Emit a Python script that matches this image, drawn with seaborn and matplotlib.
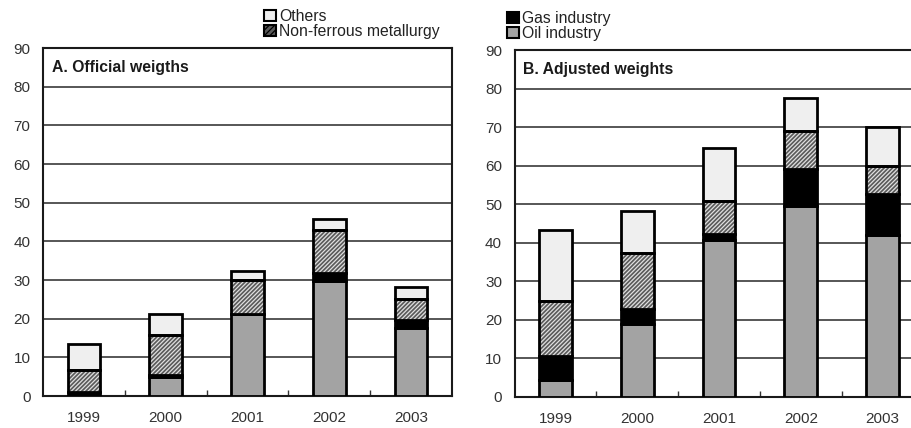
import matplotlib
matplotlib.use("Agg")
import matplotlib.pyplot as plt
import seaborn as sns
import numpy as np
from matplotlib.patches import Patch

years = ["1999", "2000", "2001", "2002", "2003"]

# Panel A: official weights
oil_a = [0.0, 4.8, 21.1, 29.8, 17.5]
gas_a = [1.1, 0.7, 0.0, 2.0, 2.1]
nonf_a = [5.7, 10.4, 9.0, 11.1, 5.4]
others_a = [6.7, 5.2, 2.2, 2.8, 3.3]

# Panel B: adjusted weights
oil_b = [4.3, 19.0, 40.7, 49.4, 41.9]
gas_b = [6.3, 3.8, 1.5, 9.6, 10.7]
nonf_b = [14.2, 14.6, 8.5, 9.9, 7.2]
others_b = [18.4, 10.9, 13.9, 8.6, 10.2]

y_ticks = [0, 10, 20, 30, 40, 50, 60, 70, 80, 90]

sns.set_theme(style="white")
plt.rcParams["font.family"] = ["Liberation Sans", "DejaVu Sans"]
plt.rcParams["hatch.linewidth"] = 0.9

fig = plt.figure(figsize=(9.12, 4.28), dpi=100)
W, H = 912, 428
axA = fig.add_axes([43 / W, 1 - 396 / H, 409 / W, (396 - 48) / H])
axB = fig.add_axes([514.5 / W, 1 - 396.7 / H, 409 / W, (396.7 - 50) / H])

OIL = "#a3a3a3"
GAS = "#000000"
NONF = "#5a5a5a"
OTH = "#efefef"
BW = 0.4
EW = 2.0
FS = 11


def draw(ax, oil, gas, nonf, oth, title, right_spine=True):
    ax.set_axisbelow(True)
    for v in y_ticks[1:-1]:
        ax.axhline(v, color="#3a3a3a", lw=1.2, zorder=0)
    oil = np.array(oil); gas = np.array(gas); nonf = np.array(nonf); oth = np.array(oth)
    b1 = oil
    b2 = oil + gas
    b3 = oil + gas + nonf
    sns.barplot(x=years, y=oil, color=OIL, width=BW, edgecolor="black",
                linewidth=EW, saturation=1, ax=ax, zorder=3)
    sns.barplot(x=years, y=gas, bottom=b1, color=GAS, width=BW, edgecolor="black",
                linewidth=EW, saturation=1, ax=ax, zorder=3)
    # hatched layer: fill + light hatch, then black outline
    sns.barplot(x=years, y=nonf, bottom=b2, color=NONF, width=BW, edgecolor="#e0e0e0",
                linewidth=0, hatch="////////", saturation=1, ax=ax, zorder=3)
    sns.barplot(x=years, y=nonf, bottom=b2, color="black", fill=False, width=BW,
                linewidth=EW, saturation=1, ax=ax, zorder=4)
    sns.barplot(x=years, y=oth, bottom=b3, color=OTH, width=BW, edgecolor="black",
                linewidth=EW, saturation=1, ax=ax, zorder=3)
    ax.set_xlim(-0.5, 4.5)
    ax.set_ylim(0, 90)
    ax.set_yticks(y_ticks)
    ax.set_yticklabels([str(v) for v in y_ticks], fontsize=FS, color="#333333")
    ax.set_xticks(range(5))
    ax.set_xticklabels(years, fontsize=FS, color="#333333")
    ax.set_xticks([0.5, 1.5, 2.5, 3.5], minor=True)
    ax.tick_params(axis="x", which="major", length=0, pad=11)
    ax.tick_params(axis="x", which="minor", direction="in", length=4, width=1,
                   color="#333333", bottom=True)
    ax.tick_params(axis="y", length=0, pad=9)
    ax.set_xlabel("")
    ax.set_ylabel("")
    for s in ax.spines.values():
        s.set_color("#1a1a1a")
        s.set_linewidth(1.5)
        s.set_visible(True)
    ax.spines["right"].set_visible(right_spine)
    ax.text(0.022, 0.966, title, transform=ax.transAxes, ha="left", va="top",
            fontsize=11.3, fontweight="bold", color="#1a1a1a")


draw(axA, oil_a, gas_a, nonf_a, others_a, "A. Official weigths")
draw(axB, oil_b, gas_b, nonf_b, others_b, "B. Adjusted weights", right_spine=False)

legA = [Patch(facecolor=OTH, edgecolor="black", linewidth=1.5, label="Others"),
        Patch(facecolor=NONF, edgecolor="black", linewidth=1.5, hatch="//////",
              label="Non-ferrous metallurgy")]
legB = [Patch(facecolor=GAS, edgecolor="black", linewidth=1.5, label="Gas industry"),
        Patch(facecolor=OIL, edgecolor="black", linewidth=1.5, label="Oil industry")]

kw = dict(loc="upper left", frameon=False, fontsize=11.3, handlelength=0.75,
          handleheight=0.75, handletextpad=0.2, labelspacing=0.0,
          borderaxespad=0, borderpad=0)
fig.legend(handles=legA, bbox_to_anchor=(264 / W, 1 - 9 / H), **kw)
fig.legend(handles=legB, bbox_to_anchor=(507 / W, 1 - 11 / H), **kw)
for leg in fig.legends:
    for t in leg.get_texts():
        t.set_color("#222222")

fig.savefig("out.png", dpi=100)
